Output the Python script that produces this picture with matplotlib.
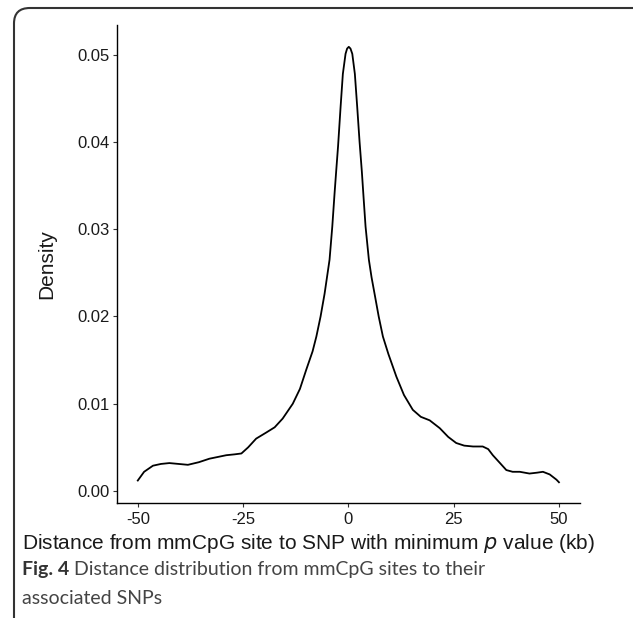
import matplotlib
matplotlib.use("Agg")
import matplotlib.pyplot as plt
from matplotlib.patches import FancyBboxPatch

# distance (kb) and density
distance = [-50, -48.5, -46.4, -44.5, -42.5, -40.3, -38.1, -35.5, -33.0, -31.0, -29.0,
            -27.0, -25.4, -23.8, -21.9, -19.5, -17.5, -15.6, -13.2, -11.5, -10.0,
            -8.5, -7.6, -6.6, -5.65, -4.47, -3.82, -3.28, -2.87, -2.45, -1.85, -1.31,
            -0.67, -0.3, 0.1, 0.5, 0.93, 1.54, 2.1, 2.66, 3.2, 3.6, 4.08, 4.87, 5.5,
            6.22, 7.2, 8.2, 9.5, 11.4, 13.2,
            15.3, 17.2, 19.3, 21.7, 23.7, 25.6, 27.5, 29.6, 31.9, 33.2, 34.3,
            36.0, 37.5, 39.0, 40.7, 43.0, 44.8, 46.2, 47.8, 49.4, 50]
density = [0.0012, 0.0022, 0.0029, 0.0031, 0.0032, 0.0031, 0.0030, 0.0033, 0.0037, 0.0039, 0.0041,
           0.0042, 0.0043, 0.0050, 0.0060, 0.0067, 0.0073, 0.0083, 0.0100, 0.0117, 0.0139,
           0.0160, 0.0177, 0.0200, 0.0226, 0.0265, 0.0303, 0.0341, 0.0368, 0.0395, 0.0440, 0.0478,
           0.0501, 0.0507, 0.0509, 0.0507, 0.0501, 0.0478, 0.0440, 0.0400, 0.0366, 0.0337, 0.0303, 0.0265, 0.0245,
           0.0226, 0.0200, 0.0177, 0.0157, 0.0131, 0.0110,
           0.0093, 0.0085, 0.0081, 0.0072, 0.0062, 0.0055, 0.0052, 0.0051, 0.0051, 0.0048, 0.0041,
           0.0032, 0.0024, 0.0022, 0.0022, 0.0020, 0.0021, 0.0022, 0.0019, 0.0013, 0.0010]

xticks = [-50, -25, 0, 25, 50]
yticks = [0.00, 0.01, 0.02, 0.03, 0.04, 0.05]

plt.rcParams['font.family'] = ['Liberation Sans', 'DejaVu Sans']

fig = plt.figure(figsize=(6.33, 6.18), dpi=100)
ax = fig.add_axes([0.1844, 0.1856, 0.7319, 0.7739])

ax.plot(distance, density, color="black", linewidth=1.3)

ax.set_xlim(-55, 55)
ax.set_ylim(-0.00141, 0.0534)
ax.set_xticks(xticks)
ax.set_xticklabels([str(t) for t in xticks])
ax.set_yticks(yticks)
ax.set_yticklabels(["%.2f" % t for t in yticks])
ax.tick_params(labelsize=12, colors="#333333", length=3, width=0.8, pad=2,
               labelcolor="#1a1a1a")
ax.tick_params(axis="x", pad=3.5)

for s in ["top", "right"]:
    ax.spines[s].set_visible(False)
for s in ["left", "bottom"]:
    ax.spines[s].set_linewidth(1.0)

ax.set_ylabel("Density", fontsize=15, color="#1a1a1a")
ax.yaxis.set_label_coords(-0.131, 0.5)
ax.set_xlabel("Distance from mmCpG site to SNP with minimum $\\it{p}$ value (kb)",
              fontsize=15, color="#1a1a1a")
ax.xaxis.set_label_coords(0.413, -0.06)

# caption
cap = fig.text(22 / 633, 1 - 575 / 618, "Fig. 4", fontsize=14, fontweight="bold",
               family="Lato", color="#333333", va="baseline")
ax.annotate(" Distance distribution from mmCpG sites to their", xy=(1, 0),
            xycoords=cap, fontsize=14, family="Lato", color="#444444",
            va="bottom", annotation_clip=False)
fig.text(22 / 633, 1 - 604 / 618, "associated SNPs", fontsize=14,
         family="Lato", color="#444444", va="baseline")

# rounded frame
frame = FancyBboxPatch((14 / 633, -0.2), 1.2, 1.2 - 8 / 618,
                       boxstyle="round,pad=0,rounding_size=0.025",
                       transform=fig.transFigure, fill=False,
                       edgecolor="#333333", linewidth=1.5, clip_on=False)
fig.patches.append(frame)

fig.savefig("out.png", dpi=100)
